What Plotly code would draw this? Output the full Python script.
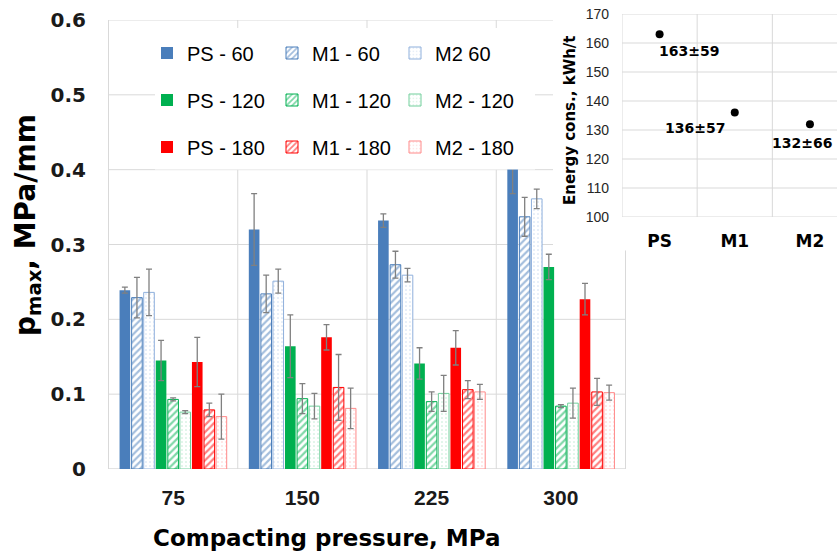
import plotly.graph_objects as go

# ---- data -------------------------------------------------------------
pressures = ["75", "150", "225", "300"]

series_names = ["PS - 60", "M1 - 60", "M2 60",
                "PS - 120", "M1 - 120", "M2 - 120",
                "PS - 180", "M1 - 180", "M2 - 180"]

ps_60 = [0.239, 0.320, 0.332, 0.430]
ps_60_err = [0.004, 0.048, 0.009, 0.062]
m1_60 = [0.229, 0.234, 0.273, 0.337]
m1_60_err = [0.027, 0.025, 0.018, 0.026]
m2_60 = [0.236, 0.251, 0.259, 0.361]
m2_60_err = [0.031, 0.016, 0.009, 0.013]

ps_120 = [0.145, 0.164, 0.141, 0.270]
ps_120_err = [0.027, 0.042, 0.021, 0.017]
m1_120 = [0.093, 0.094, 0.090, 0.084]
m1_120_err = [0.002, 0.020, 0.013, 0.002]
m2_120 = [0.076, 0.084, 0.101, 0.088]
m2_120_err = [0.002, 0.017, 0.024, 0.020]

ps_180 = [0.143, 0.176, 0.162, 0.227]
ps_180_err = [0.033, 0.017, 0.023, 0.021]
m1_180 = [0.079, 0.109, 0.106, 0.103]
m1_180_err = [0.009, 0.044, 0.012, 0.018]
m2_180 = [0.070, 0.081, 0.103, 0.102]
m2_180_err = [0.030, 0.027, 0.010, 0.010]

y_ticks = [0, 0.1, 0.2, 0.3, 0.4, 0.5, 0.6]
y_tick_text = ["0", "0.1", "0.2", "0.3", "0.4", "0.5", "0.6"]

materials = ["PS", "M1", "M2"]
energy = [163, 136, 132]
energy_sd = [59, 57, 66]
energy_ticks = [100, 110, 120, 130, 140, 150, 160, 170]

# ---- page geometry (pixels) ------------------------------------------
W, H = 837, 556
def px_x(p):
    return p / W
def px_y(p):
    return 1 - p / H

MAIN_L, MAIN_R, MAIN_T, MAIN_B = 108, 626, 20, 469
INS_L, INS_T, INS_B = 622, 14, 217

SANS = "Liberation Sans, Arial, sans-serif"
WIDE = "DejaVu Sans, Verdana, sans-serif"

BLUE, GREEN, RED = "#4a7ebb", "#00b050", "#ff0000"
BLUE_L, GREEN_L, RED_L = "#8fb0dc", "#72cf9c", "#ff8a8a"
ERR = "#808080"

values = [ps_60, m1_60, m2_60, ps_120, m1_120, m2_120, ps_180, m1_180, m2_180]
errors = [ps_60_err, m1_60_err, m2_60_err, ps_120_err, m1_120_err, m2_120_err,
          ps_180_err, m1_180_err, m2_180_err]
colors = [BLUE, GREEN, RED]
light = [BLUE_L, GREEN_L, RED_L]

fig = go.Figure()

# legend slots: one small legend per entry so the 3x3 grid sits exactly
text_x = [187, 312, 435]
row_y = [53, 100, 147]

for i, (name, vals, errs) in enumerate(zip(series_names, values, errors)):
    grp, kind = divmod(i, 3)
    c = colors[grp]
    if kind == 0:
        marker = dict(color=c, line=dict(color=c, width=0))
    elif kind == 1:
        marker = dict(color="white", line=dict(color=c, width=1),
                      pattern=dict(shape="/", fgcolor=c, bgcolor="white",
                                   size=5, solidity=0.45, fillmode="overlay"))
    else:
        marker = dict(color="white", line=dict(color=light[grp], width=1),
                      pattern=dict(shape=".", fgcolor=light[grp], bgcolor="white",
                                   size=4, solidity=0.12, fillmode="overlay"))
    lg = "legend" if i == 0 else f"legend{i + 1}"
    fig.add_trace(go.Bar(
        x=pressures, y=vals, name=name, marker=marker,
        error_y=dict(type="data", array=errs, color=ERR, thickness=1.3, width=3),
        xaxis="x", yaxis="y", legend=lg,
    ))
    fig.update_layout({lg: dict(
        x=px_x(text_x[kind] - 40), y=px_y(row_y[grp]),
        xanchor="left", yanchor="middle",
        bgcolor="rgba(0,0,0,0)", borderwidth=0,
        font=dict(family=SANS, size=20, color="#000000"),
        itemwidth=30,
    )})

# inset: energy consumption per material
fig.add_trace(go.Scatter(
    x=[0, 1, 2], y=energy, mode="markers",
    marker=dict(color="#000000", size=8),
    xaxis="x2", yaxis="y2", showlegend=False,
))

shapes = []
grid = "#d9d9d9"
# main horizontal grid
for v in y_ticks[1:]:
    right = MAIN_R if v < 0.25 else 553
    shapes.append(dict(type="line", xref="paper", yref="y",
                       x0=px_x(MAIN_L), x1=px_x(right), y0=v, y1=v,
                       line=dict(color=grid, width=1), layer="below"))
# main vertical category boundaries
for k in range(5):
    top = 0.6 if k < 4 else (MAIN_B - 250) / 750
    shapes.append(dict(type="line", xref="x", yref="y",
                       x0=k - 0.5, x1=k - 0.5, y0=0, y1=top,
                       line=dict(color=grid, width=1), layer="below"))
# category axis line
shapes.append(dict(type="line", xref="paper", yref="y",
                   x0=px_x(MAIN_L), x1=px_x(MAIN_R), y0=0, y1=0,
                   line=dict(color="#c8c8c8", width=1.2), layer="below"))
# inset grid
for v in energy_ticks:
    shapes.append(dict(type="line", xref="x2 domain", yref="y2",
                       x0=0, x1=1, y0=v, y1=v,
                       line=dict(color=grid, width=1), layer="below"))
for k in range(3):
    shapes.append(dict(type="line", xref="x2", yref="y2",
                       x0=k - 0.5, x1=k - 0.5, y0=100, y1=170,
                       line=dict(color=grid, width=1), layer="below"))
# white panel behind the legend block
shapes.append(dict(type="rect", xref="paper", yref="paper",
                   x0=px_x(155), x1=px_x(535), y0=px_y(169.5), y1=px_y(28),
                   fillcolor="white", line=dict(width=0), layer="above"))

annotations = [
    dict(text="p<sub>max</sub>, MPa/mm", xref="paper", yref="paper",
         x=px_x(28), y=px_y(225), textangle=-90, showarrow=False,
         xanchor="center", yanchor="middle",
         font=dict(family=WIDE, size=28, color="#000000", weight="bold")),
    dict(text="Compacting pressure, MPa", xref="paper", yref="paper",
         x=px_x(326), y=px_y(538), showarrow=False,
         xanchor="center", yanchor="middle",
         font=dict(family=WIDE, size=23, color="#000000", weight="bold")),
    dict(text="Energy cons., kWh/t", xref="paper", yref="paper",
         x=px_x(570), y=px_y(120), textangle=-90, showarrow=False,
         xanchor="center", yanchor="middle",
         font=dict(family=WIDE, size=15, color="#000000", weight="bold")),
]
label_place = [("left", -3, -17), ("right", -8, -15), ("center", -8, -19)]
for k, (e, sd) in enumerate(zip(energy, energy_sd)):
    anchor, dx, dy = label_place[k]
    annotations.append(dict(
        text=f"{e}±{sd}", xref="x2", yref="y2", x=k, y=e, showarrow=False,
        xanchor=anchor, yanchor="middle", xshift=dx, yshift=dy,
        font=dict(family=WIDE, size=14, color="#000000", weight="bold")))

fig.update_layout(
    width=W, height=H,
    margin=dict(l=0, r=0, t=0, b=0),
    paper_bgcolor="white", plot_bgcolor="rgba(0,0,0,0)",
    barmode="group", bargap=0.16, bargroupgap=0.12,
    showlegend=True,
    shapes=shapes, annotations=annotations,
    xaxis=dict(domain=[px_x(MAIN_L), px_x(MAIN_R)], anchor="y",
               type="category", categoryorder="array", categoryarray=pressures,
               showgrid=False, zeroline=False, showline=False, ticks="",
               ticklabelstandoff=14, automargin=False,
               tickfont=dict(family=SANS, size=21, color="#1a1a1a", weight="bold")),
    yaxis=dict(domain=[px_y(MAIN_B), px_y(MAIN_T)], anchor="x",
               range=[0, 0.6], tickvals=y_ticks, ticktext=y_tick_text,
               showgrid=False, zeroline=False, showline=False, ticks="",
               ticklabelstandoff=21, automargin=False,
               tickfont=dict(family=WIDE, size=20, color="#1a1a1a", weight="bold")),
    xaxis2=dict(domain=[px_x(INS_L), 1.0], anchor="y2",
                range=[-0.5, 2.36], tickvals=[0, 1, 2], ticktext=materials,
                showgrid=False, zeroline=False, showline=False, ticks="",
                ticklabelstandoff=12, automargin=False,
                tickfont=dict(family=WIDE, size=17, color="#000000", weight="bold")),
    yaxis2=dict(domain=[px_y(INS_B), px_y(INS_T)], anchor="x2",
                range=[100, 170], tickvals=energy_ticks,
                showgrid=False, zeroline=False, showline=False, ticks="",
                ticklabelstandoff=12, automargin=False,
                tickfont=dict(family=SANS, size=14, color="#262626")),
)

fig.write_html("out.html")
